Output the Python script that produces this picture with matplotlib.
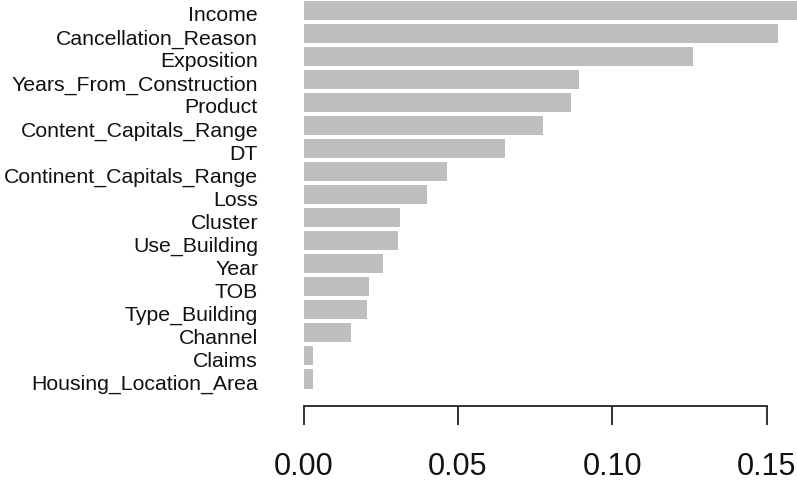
import matplotlib
matplotlib.use("Agg")
import matplotlib.pyplot as plt
import matplotlib.transforms as mtransforms

features = [
    "Income", "Cancellation_Reason", "Exposition", "Years_From_Construction",
    "Product", "Content_Capitals_Range", "DT", "Continent_Capitals_Range",
    "Loss", "Cluster", "Use_Building", "Year", "TOB", "Type_Building",
    "Channel", "Claims", "Housing_Location_Area",
]
importance = [
    0.1600, 0.1536, 0.1261, 0.0892, 0.0867, 0.0776, 0.0653, 0.0464,
    0.0399, 0.0313, 0.0307, 0.0259, 0.0213, 0.0207, 0.0154, 0.0032, 0.0031,
]
ticks = [0.00, 0.05, 0.10, 0.15]
tick_labels = ["0.00", "0.05", "0.10", "0.15"]

W, H = 797, 481
DPI = 100
fig = plt.figure(figsize=(W / DPI, H / DPI), dpi=DPI)
plt.rcParams["font.family"] = ["Liberation Sans", "DejaVu Sans"]

# axes placed in pixel units
x0, x1 = 303.5, 797.0
y_top, y_bot = 0.0, 392.0
ax = fig.add_axes([x0 / W, 1 - y_bot / H, (x1 - x0) / W, (y_bot - y_top) / H])

px_per_unit = (766.7 - 303.5) / 0.15
pitch = 23.04
first_center = 11.3

pos = list(range(len(features)))
ax.barh(pos, importance, height=0.833, color="#bebebe", edgecolor="none")

ax.set_xlim(0, (x1 - x0) / px_per_unit)
ax.set_ylim((y_bot - first_center) / pitch, -first_center / pitch)

for s in ["top", "right", "left"]:
    ax.spines[s].set_visible(False)
ax.spines["bottom"].set_position(("outward", 14.7 * 72 / DPI))
ax.spines["bottom"].set_bounds(0, 0.15)
ax.spines["bottom"].set_color("#222222")
ax.spines["bottom"].set_linewidth(1.3)

ax.set_xticks(ticks)
ax.set_xticklabels(tick_labels, fontsize=22, color="#111111")
ax.tick_params(axis="x", direction="out", length=19.3 * 72 / DPI, width=1.3,
               color="#222222", pad=26 * 72 / DPI)

ax.set_yticks(pos)
ax.set_yticklabels(features, fontsize=15.3, color="#111111")
ax.tick_params(axis="y", length=0, pad=45.5 * 72 / DPI)

# category labels sit slightly below the bar centres
shift = mtransforms.ScaledTranslation(0, -2.5 / DPI, fig.dpi_scale_trans)
for lbl in ax.get_yticklabels():
    lbl.set_transform(lbl.get_transform() + shift)

fig.savefig("out.png", dpi=DPI)
